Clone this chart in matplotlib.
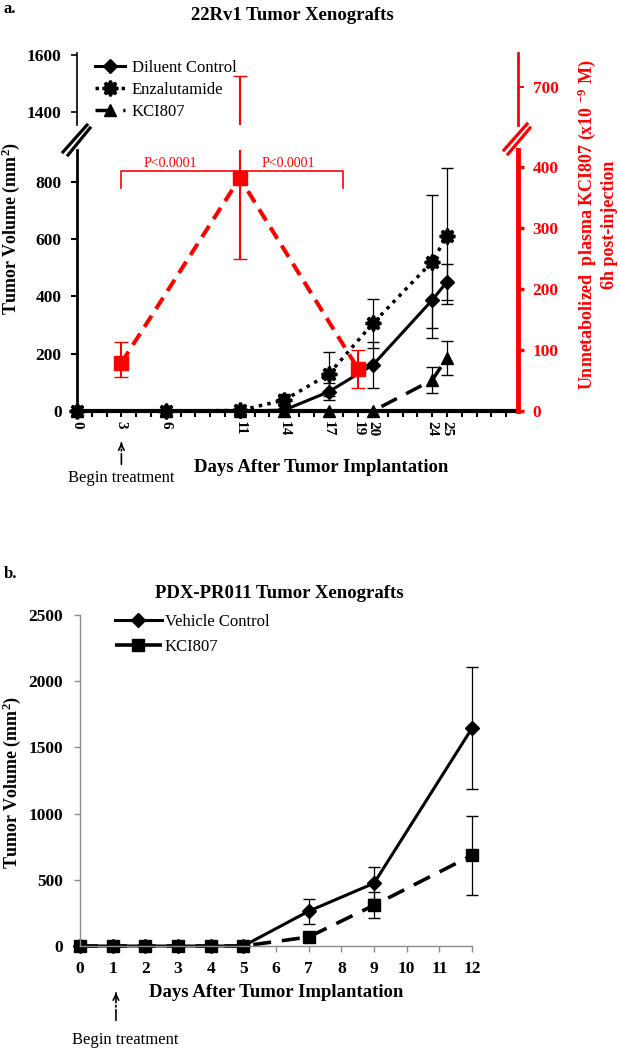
import matplotlib.pyplot as plt
from matplotlib.lines import Line2D
import matplotlib.transforms as mtransforms

plt.rcParams['font.family'] = 'Liberation Serif'
plt.rcParams['font.weight'] = 'bold'
plt.rcParams['mathtext.default'] = 'regular'
plt.rcParams['axes.unicode_minus'] = False

W, H = 619, 1050

# panel a: 22Rv1 tumour volume (mm2)
days_a = [0, 6, 11, 14, 17, 20, 24, 25]
diluent = [0, 0, 0, 3, 67, 161, 387, 451]
diluent_err = [0, 0, 0, 5, 30, 80, 131, 62]
enza = [0, 0, 2, 38, 128, 306, 521, 611]
enza_err = [0, 0, 0, 20, 77, 85, 233, 237]
kci_a = [0, 0, 0, 0, 0, 0, 108, 185]
kci_a_err = [0, 0, 0, 0, 0, 0, 45, 60]

# panel a: plasma KCI807 (x10-9 M), right axis
plasma_days = [3, 11, 19]
plasma = [79, 382, 69]
plasma_err_lo = [23, 133, 31]
plasma_err_hi = [34, 336, 31]

xtick_days_a = [0, 3, 6, 11, 14, 17, 19, 20, 24, 25]

# panel b: PDX-PR011 tumour volume (mm2)
days_b = [0, 1, 2, 3, 4, 5, 7, 9, 12]
vehicle = [0, 0, 0, 0, 0, 0, 263, 474, 1645]
vehicle_err = [0, 0, 0, 0, 0, 0, 95, 120, 460]
kci_b = [0, 0, 0, 0, 0, 0, 68, 308, 685]
kci_b_err = [0, 0, 0, 0, 0, 0, 0, 100, 300]


def fx(px):
    return px / W


def fy(py):
    return 1 - py / H


fig = plt.figure(figsize=(W / 100, H / 100), dpi=100)

# ---- panel a, broken axis: lower and upper part
ax_a = fig.add_axes([fx(77), fy(411), 441 / W, 261 / H])
ax_at = fig.add_axes([fx(77), fy(125), 441 / W, 72 / H])
ax_ar = ax_a.twinx()
ax_atr = ax_at.twinx()

ax_a.set_xlim(0, 29.8)
ax_at.set_xlim(0, 29.8)
ax_a.set_ylim(0, 911)
ax_at.set_ylim(1354, 1607)
ax_ar.set_ylim(0, 428)
ax_atr.set_ylim(638, 756)

ax_a.errorbar(days_a, diluent, yerr=diluent_err, fmt='none', ecolor='k', elinewidth=0.9, capsize=4)
ax_a.errorbar(days_a, enza, yerr=enza_err, fmt='none', ecolor='k', elinewidth=0.9, capsize=4)
ax_a.errorbar(days_a, kci_a, yerr=kci_a_err, fmt='none', ecolor='k', elinewidth=0.9, capsize=4)
l_dil, = ax_a.plot(days_a, diluent, color='k', lw=2.2, marker='D', ms=7, clip_on=False)
l_enz, = ax_a.plot(days_a, enza, color='k', lw=2.5, ls=(0, (1, 1.5)), marker=(8, 1, 0), ms=11,
                   mew=2.2, clip_on=False)
l_kci, = ax_a.plot(days_a, kci_a, color='k', lw=2.5, ls=(0, (5, 3)), marker='^', ms=9, clip_on=False)

ax_ar.errorbar(plasma_days, plasma, yerr=[plasma_err_lo, plasma_err_hi], fmt='none', ecolor='red', elinewidth=1.5, capsize=5)
ax_ar.plot(plasma_days, plasma, color='red', lw=2.9, ls=(0, (3.3, 2)), marker='s', ms=9.5)
ax_atr.errorbar(plasma_days, plasma, yerr=[plasma_err_lo, plasma_err_hi], fmt='none', ecolor='red', elinewidth=1.5, capsize=5)

# p-value bracket
ax_ar.plot([3, 3, 18, 18], [366, 393, 393, 366], color='red', lw=1.2)
ax_ar.text(6.3, 396, 'P<0.0001', color='red', fontsize=10, fontweight='normal', ha='center', va='bottom')
ax_ar.text(14.3, 396, 'P<0.0001', color='red', fontsize=10, fontweight='normal', ha='center', va='bottom')

ax_a.set_yticks([0, 200, 400, 600, 800])
ax_at.set_yticks([1400, 1600])
ax_ar.set_yticks([0, 100, 200, 300, 400])
ax_atr.set_yticks([700])
ax_a.set_xticks(range(30))
ax_a.set_xticklabels([str(d) if d in xtick_days_a else '' for d in range(30)], rotation=270)

for s in ['top', 'right']:
    ax_a.spines[s].set_visible(False)
ax_a.spines['left'].set_linewidth(2)
ax_a.spines['bottom'].set_linewidth(3)
ax_a.tick_params(axis='y', direction='out', length=4, width=1.5, labelsize=12.5, pad=7)
ax_a.tick_params(axis='x', direction='out', length=4, width=1.5, labelsize=11, pad=3.5)

for s in ['top', 'right', 'bottom']:
    ax_at.spines[s].set_visible(False)
ax_at.spines['left'].set_linewidth(1.2)
ax_at.tick_params(axis='x', bottom=False, labelbottom=False)
ax_at.tick_params(axis='y', direction='out', length=4, width=1.2, labelsize=12.5, pad=7)

for ax, w in [(ax_ar, 3.5), (ax_atr, 2)]:
    for s in ['top', 'left', 'bottom']:
        ax.spines[s].set_visible(False)
    ax.spines['right'].set_color('red')
    ax.spines['right'].set_linewidth(w)
    ax.tick_params(axis='y', colors='red', direction='out', length=4, width=w * 0.7, labelsize=12.5, pad=6.5)

# axis break marks
for xs, ys in [([63, 87], [152, 125]), ([68, 90], [155, 128])]:
    fig.add_artist(Line2D([fx(x) for x in xs], [fy(y) for y in ys], color='k', lw=2.3))
for xs, ys in [([504, 527], [150, 124]), ([508, 530], [154, 128])]:
    fig.add_artist(Line2D([fx(x) for x in xs], [fy(y) for y in ys], color='red', lw=2.3))

fig.legend([l_dil, l_enz, l_kci], ['Diluent Control', 'Enzalutamide', 'KCI807'],
           loc='upper left', bbox_to_anchor=(fx(95), fy(60)), frameon=False,
           prop={'family': 'Liberation Serif', 'weight': 'normal', 'size': 12},
           handlelength=1.8, handletextpad=0.4, labelspacing=0.36, borderpad=0, borderaxespad=0)

fig.text(fx(4), fy(9), 'a.', fontsize=12, ha='left', va='center')
fig.text(fx(292), fy(15), '22Rv1 Tumor Xenografts', fontsize=13.5, ha='center', va='center')
fig.text(fx(11), fy(228), 'Tumor Volume (mm$^2$)', rotation=90, fontsize=13, ha='center', va='center')
fig.text(fx(587), fy(225), 'Unmetabolized  plasma KCI807 (x10 $^{-9}$ M)', rotation=90,
         color='red', fontsize=13, ha='center', va='center')
fig.text(fx(610), fy(225), '6h post-injection', rotation=90, color='red', fontsize=13,
         ha='center', va='center')

tr_a = mtransforms.blended_transform_factory(ax_a.transData, ax_a.transAxes)
ax_a.text(16.5, -0.218, 'Days After Tumor Implantation', transform=tr_a, fontsize=13.5,
          ha='center', va='center')
ax_a.annotate('', xy=(3, -0.111), xytext=(3, -0.215), xycoords=tr_a, textcoords=tr_a,
              arrowprops=dict(arrowstyle='-', ls='-.', lw=1.2, color='k'))
ax_a.annotate('', xy=(3, -0.111), xytext=(3, -0.14), xycoords=tr_a, textcoords=tr_a,
              arrowprops=dict(arrowstyle='->', lw=1.2, color='k'))
ax_a.text(3, -0.257, 'Begin treatment', transform=tr_a, fontsize=12, fontweight='normal',
          ha='center', va='center')

# ---- panel b
ax_b = fig.add_axes([fx(80), fy(946), 392 / W, 331 / H])
ax_b.set_xlim(0, 12)
ax_b.set_ylim(0, 2500)
for vals, errs in [(vehicle, vehicle_err), (kci_b, kci_b_err)]:
    eb = ax_b.errorbar(days_b, vals, yerr=errs, fmt='none', ecolor='k', elinewidth=0.9, capsize=4)
    for art in eb.lines[1] + eb.lines[2]:
        art.set_clip_on(False)
l_veh, = ax_b.plot(days_b, vehicle, color='k', lw=2.2, marker='D', ms=7, clip_on=False)
l_kcb, = ax_b.plot(days_b, kci_b, color='k', lw=2.6, ls=(0, (5, 3)), marker='s', ms=8.5, clip_on=False)

ax_b.set_xticks(range(13))
ax_b.set_yticks([0, 500, 1000, 1500, 2000, 2500])
for s in ['top', 'right']:
    ax_b.spines[s].set_visible(False)
for s in ['left', 'bottom']:
    ax_b.spines[s].set_color('#8c8c8c')
    ax_b.spines[s].set_linewidth(1)
ax_b.tick_params(axis='y', direction='out', length=4, width=1, color='#8c8c8c', labelsize=12.5, pad=8)
ax_b.tick_params(axis='x', direction='out', length=4, width=1, color='#8c8c8c', labelsize=12.5, pad=7)

fig.legend([l_veh, l_kcb], ['Vehicle Control', 'KCI807'],
           loc='upper left', bbox_to_anchor=(fx(115), fy(614)), frameon=False,
           prop={'family': 'Liberation Serif', 'weight': 'normal', 'size': 12},
           handlelength=2.8, handletextpad=0.2, labelspacing=0.55, borderpad=0, borderaxespad=0)

fig.text(fx(4), fy(574), 'b.', fontsize=12, ha='left', va='center')
fig.text(fx(279), fy(594), 'PDX-PR011 Tumor Xenografts', fontsize=13.5, ha='center', va='center')
fig.text(fx(12), fy(782), 'Tumor Volume (mm$^2$)', rotation=90, fontsize=13, ha='center', va='center')

tr_b = mtransforms.blended_transform_factory(ax_b.transData, ax_b.transAxes)
ax_b.text(6.0, -0.139, 'Days After Tumor Implantation', transform=tr_b, fontsize=13.5,
          ha='center', va='center')
ax_b.annotate('', xy=(1.1, -0.133), xytext=(1.1, -0.233), xycoords=tr_b, textcoords=tr_b,
              arrowprops=dict(arrowstyle='-', ls='-.', lw=1.2, color='k'))
ax_b.annotate('', xy=(1.1, -0.133), xytext=(1.1, -0.16), xycoords=tr_b, textcoords=tr_b,
              arrowprops=dict(arrowstyle='->', lw=1.2, color='k'))
ax_b.text(1.4, -0.284, 'Begin treatment', transform=tr_b, fontsize=12, fontweight='normal',
          ha='center', va='center')

fig.savefig('out.png', dpi=100)
